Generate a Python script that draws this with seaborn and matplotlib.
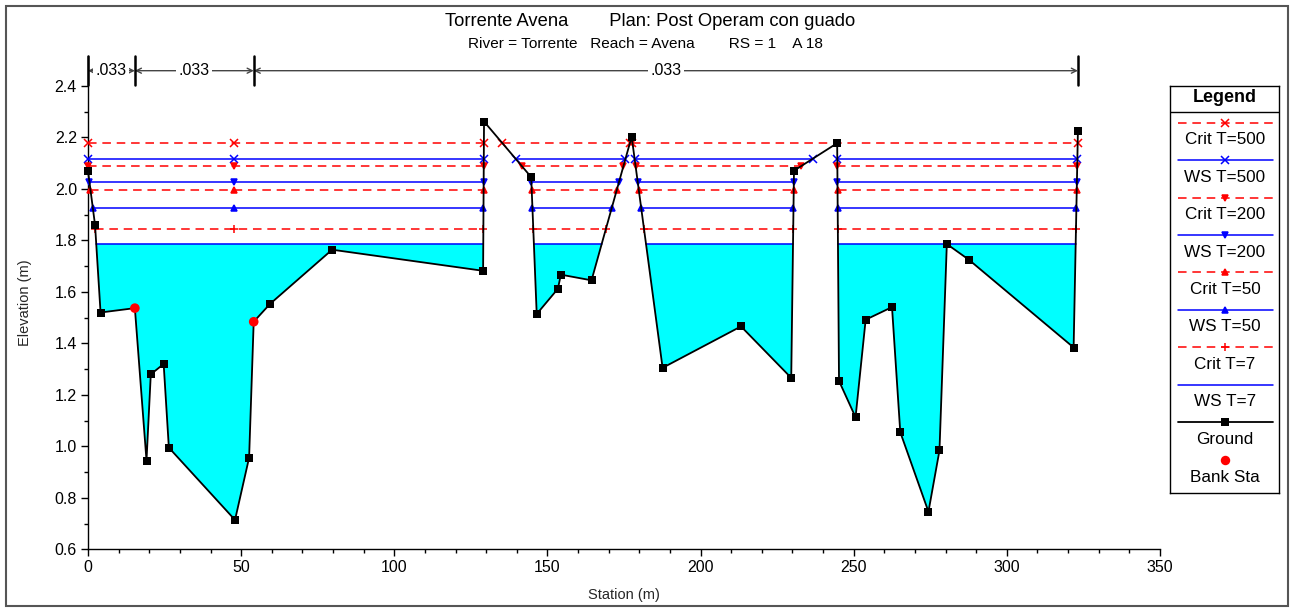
import numpy as np
import matplotlib
matplotlib.use("Agg")
import matplotlib.pyplot as plt
import matplotlib.patches as mpatches
import matplotlib.transforms as mtransforms
import seaborn as sns

# ---------------- data ----------------
station = [0.0, 2.3, 4.1, 15.3, 19.1, 20.5, 24.7, 26.4, 48.0, 52.6, 54.1, 59.4,
           79.7, 129.0, 129.3, 144.7, 146.5, 153.4, 154.4, 164.4, 177.5, 187.6,
           213.2, 229.6, 230.5, 244.6, 245.2, 250.6, 253.9, 262.5, 265.2, 274.4,
           278.0, 280.4, 287.6, 321.8, 323.2]
elevation = [2.07, 1.86, 1.52, 1.537, 0.945, 1.28, 1.32, 0.995, 0.714, 0.956, 1.484, 1.553,
             1.764, 1.682, 2.262, 2.046, 1.514, 1.612, 1.667, 1.645, 2.203, 1.305,
             1.466, 1.266, 2.071, 2.178, 1.254, 1.113, 1.492, 1.541, 1.055, 0.746,
             0.984, 1.786, 1.725, 1.384, 2.225]
bank_sta = [15.3, 54.1]
bank_elev = [1.537, 1.484]

profile_names = ["Crit T=500", "WS T=500", "Crit T=200", "WS T=200",
                 "Crit T=50", "WS T=50", "Crit T=7", "WS T=7"]
profile_wsel = [2.180, 2.117, 2.088, 2.027, 1.996, 1.927, 1.845, 1.787]
profile_colors = ["#FF0000", "#0000FF", "#FF0000", "#0000FF",
                  "#FF0000", "#0000FF", "#FF0000", "#0000FF"]
profile_dashed = [True, False, True, False, True, False, True, False]
profile_markers = ["x", "x", "v", "v", "^", "^", "+", None]
extra_marker_sta = [47.7]

n_values = [".033", ".033", ".033"]
n_breaks = [0.0, 15.3, 54.1, 323.2]

title_line1 = "Torrente Avena        Plan: Post Operam con guado"
title_line2 = "River = Torrente   Reach = Avena        RS = 1    A 18"

x_ticks = [0, 50, 100, 150, 200, 250, 300, 350]
y_ticks = [0.6, 0.8, 1.0, 1.2, 1.4, 1.6, 1.8, 2.0, 2.2, 2.4]

# ---------------- style ----------------
sns.set_theme(style="ticks")
plt.rcParams["font.family"] = ["Liberation Sans", "DejaVu Sans"]
plt.rcParams["axes.linewidth"] = 1.0
plt.rcParams["axes.edgecolor"] = "black"
plt.rcParams["text.color"] = "black"
plt.rcParams["xtick.color"] = "black"
plt.rcParams["ytick.color"] = "black"

W, H = 1291, 608
fig = plt.figure(figsize=(W / 100, H / 100), dpi=100)
fig.patch.set_facecolor("white")

ax_l, ax_r, ax_t, ax_b = 88, 1160, 56, 549.3
ax = fig.add_axes([ax_l / W, (H - ax_b) / H, (ax_r - ax_l) / W, (ax_b - ax_t) / H])
ax.set_facecolor("white")

st = np.asarray(station)
el = np.asarray(elevation)


def wet_intervals(x, z, level):
    out = []
    start = x[0] if z[0] < level else None
    for i in range(len(x) - 1):
        z0, z1 = z[i], z[i + 1]
        if (z0 < level) != (z1 < level):
            xc = x[i] + (level - z0) * (x[i + 1] - x[i]) / (z1 - z0)
            if z0 >= level:
                start = xc
            else:
                out.append((start, xc))
                start = None
    if start is not None:
        out.append((start, x[-1]))
    return out


# water fill for lowest WS
ws_low = profile_wsel[-1]
ax.fill_between(st, el, ws_low, where=el < ws_low, interpolate=True,
                color="#00FFFF", lw=0, zorder=1)

# profile lines
for name, lvl, col, dashed, mk in zip(profile_names, profile_wsel, profile_colors,
                                      profile_dashed, profile_markers):
    ivs = wet_intervals(st, el, lvl)
    xs, ys = [], []
    mx = []
    for a, b in ivs:
        xs += [a, b, np.nan]
        ys += [lvl, lvl, np.nan]
        mx += [a, b] + [s for s in extra_marker_sta if a < s < b]
    ln, = ax.plot(xs, ys, color=col, lw=1.1, zorder=3, clip_on=False)
    if dashed:
        ln.set_dashes((5.6, 3.8))
    if mk is not None:
        ax.plot(mx, [lvl] * len(mx), linestyle="none", marker=mk, color=col,
                ms=5.5 if mk in ("x", "+") else 5, mew=1.1, zorder=4, clip_on=False)

# ground line and point markers (bank points get the red dot instead)
sns.lineplot(x=station, y=elevation, sort=False, estimator=None, ax=ax,
             color="black", lw=1.3, zorder=5, clip_on=False)
not_bank = ~np.isin(st, bank_sta)
ax.plot(st[not_bank], el[not_bank], linestyle="none", marker="s", ms=5.2,
        color="black", mew=0, zorder=6, clip_on=False)
sns.scatterplot(x=bank_sta, y=bank_elev, ax=ax, color="#FF0000", marker="o", s=48,
                edgecolor="none", zorder=7, clip_on=False)

# axes
ax.set_xlim(0, 350)
ax.set_ylim(0.6, 0.6 + 1.8 * (ax_b - ax_t) / (ax_b - 86))
ax.set_xticks(x_ticks)
ax.set_yticks(y_ticks)
ax.set_xticks(np.arange(0, 351, 10), minor=True)
ax.set_yticks(np.arange(0.6, 2.45, 0.1), minor=True)
ax.set_yticklabels([f"{v:.1f}" for v in y_ticks])
ax.set_xticklabels([str(v) for v in x_ticks])
ax.tick_params(which="major", length=5, width=1, direction="out", labelsize=11.5, pad=3)
ax.tick_params(which="minor", length=3, width=1, direction="out")
sns.despine(ax=ax)
ax.set_xlabel("Station (m)", fontsize=10.5, labelpad=9)
ax.set_ylabel("Elevation (m)", fontsize=10.5, labelpad=16)
ax.grid(False)

# Manning's n bracket
trans = mtransforms.blended_transform_factory(ax.transData, ax.transAxes)
y_br = 1 - (70.7 - ax_t) / (ax_b - ax_t)
y_bar_lo = 1 - (85 - ax_t) / (ax_b - ax_t)
for b in n_breaks:
    ax.plot([b, b], [y_bar_lo, 1.0], transform=trans, color="black", lw=1.8,
            clip_on=False, zorder=6)
for i, nv in enumerate(n_values):
    a, b = n_breaks[i], n_breaks[i + 1]
    ax.annotate("", xy=(a, y_br), xytext=(b, y_br), xycoords=trans, textcoords=trans,
                arrowprops=dict(arrowstyle="<->", color="#444444", lw=1.0,
                                shrinkA=0, shrinkB=0, mutation_scale=9),
                annotation_clip=False)
    ax.text((a + b) / 2, y_br, nv, transform=trans, ha="center", va="center",
            fontsize=11.5, bbox=dict(boxstyle="square,pad=0.15", fc="white", ec="none"),
            zorder=7)

# titles
fig.text(650 / W, 1 - 21 / H, title_line1, ha="center", va="center", fontsize=13.2)
fig.text(645 / W, 1 - 44 / H, title_line2, ha="center", va="center", fontsize=11.1)

# legend box
lx0, lx1, ly0, ly1 = 1170, 1279, 85.7, 493
lg = fig.add_axes([lx0 / W, (H - ly1) / H, (lx1 - lx0) / W, (ly1 - ly0) / H])
lg.set_xlim(lx0, lx1)
lg.set_ylim(ly1, ly0)
lg.set_xticks([])
lg.set_yticks([])
for s in lg.spines.values():
    s.set_visible(True)
    s.set_color("black")
    s.set_linewidth(1.0)
lg.axhline(111.7, color="black", lw=1.0)
lg.text(1225, 98, "Legend", ha="center", va="center", fontsize=13, fontweight="bold")
entry_y0, step = 122.7, 37.45
cx = 1225
for k, (name, col, dashed, mk) in enumerate(zip(profile_names, profile_colors,
                                                profile_dashed, profile_markers)):
    yl = entry_y0 + k * step
    ln, = lg.plot([1178, 1273], [yl, yl], color=col, lw=1.1)
    if dashed:
        ln.set_dashes((5.6, 3.8))
    if mk is not None:
        lg.plot([cx], [yl], marker=mk, color=col, ms=5.5 if mk in ("x", "+") else 5, mew=1.1)
    lg.text(cx, yl + 17, name, ha="center", va="center", fontsize=12.3)
yg = entry_y0 + 8 * step
lg.plot([1178, 1273], [yg, yg], color="black", lw=1.3)
lg.plot([cx], [yg], marker="s", color="black", ms=5.2, mew=0)
lg.text(cx, yg + 17, "Ground", ha="center", va="center", fontsize=12.3)
yb = entry_y0 + 9 * step
lg.plot([cx], [yb], marker="o", color="#FF0000", ms=6.8, mew=0)
lg.text(cx, yb + 17.5, "Bank Sta", ha="center", va="center", fontsize=12.3)

# outer frame
fig.add_artist(mpatches.Rectangle((6 / W, 2 / H), (1288 - 6) / W, 600 / H,
                                  transform=fig.transFigure, fill=False,
                                  ec="#555555", lw=1.5))

fig.savefig("out.png", dpi=100, facecolor="white")
